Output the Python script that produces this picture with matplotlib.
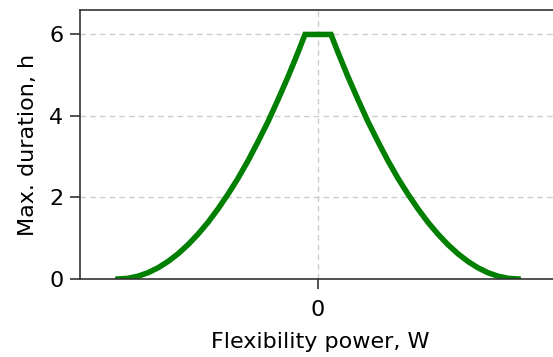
import matplotlib
matplotlib.use("Agg")
import matplotlib.pyplot as plt

GREEN = "#007f00"
SPINE = "#333333"

# flexibility power [W] (left half mirrored) and max duration [h]
power_left = [-1000, -950, -900, -850, -800, -750, -700, -650, -600, -550,
              -500, -450, -400, -350, -300, -250, -200, -150, -100, -65]
duration_left = [0.0, 0.017, 0.069, 0.154, 0.274, 0.429, 0.618, 0.841, 1.10, 1.39,
                 1.72, 2.08, 2.47, 2.90, 3.37, 3.86, 4.40, 4.96, 5.56, 6.0]
power_right = [65, 100, 150, 200, 250, 300, 350, 400, 450, 500,
               550, 600, 650, 700, 750, 800, 850, 900, 950, 1000]
duration_right = [6.0, 5.56, 4.96, 4.40, 3.86, 3.37, 2.90, 2.47, 2.08, 1.72,
                  1.39, 1.10, 0.841, 0.618, 0.429, 0.274, 0.154, 0.069, 0.017, 0.0]

power = power_left + power_right
duration = duration_left + duration_right

fig = plt.figure(figsize=(5.53, 3.57), dpi=100)
ax = fig.add_axes([80 / 553, 78 / 357, 480 / 553, 269 / 357])

ax.plot(power, duration, "-", lw=4.0, color=GREEN, solid_joinstyle="miter")

ax.set_xlim(-1190, 1210)
ax.set_ylim(0, 6.6)
ax.set_xticks([0])
ax.set_yticks([0, 2, 4, 6])
ax.grid(True, ls="--", lw=1.0, color="#cccccc", dashes=(4, 3))
ax.set_axisbelow(True)

for s in ax.spines.values():
    s.set_color(SPINE)
    s.set_linewidth(1.2)
ax.tick_params(labelsize=16, length=7, width=1.2, color=SPINE, pad=5)
ax.tick_params(axis="x", pad=8)

ax.set_xlabel("Flexibility power, W", fontsize=16, labelpad=9)
ax.set_ylabel("Max. duration, h", fontsize=16, labelpad=8)

fig.savefig("out.png", dpi=100)
plt.close(fig)
